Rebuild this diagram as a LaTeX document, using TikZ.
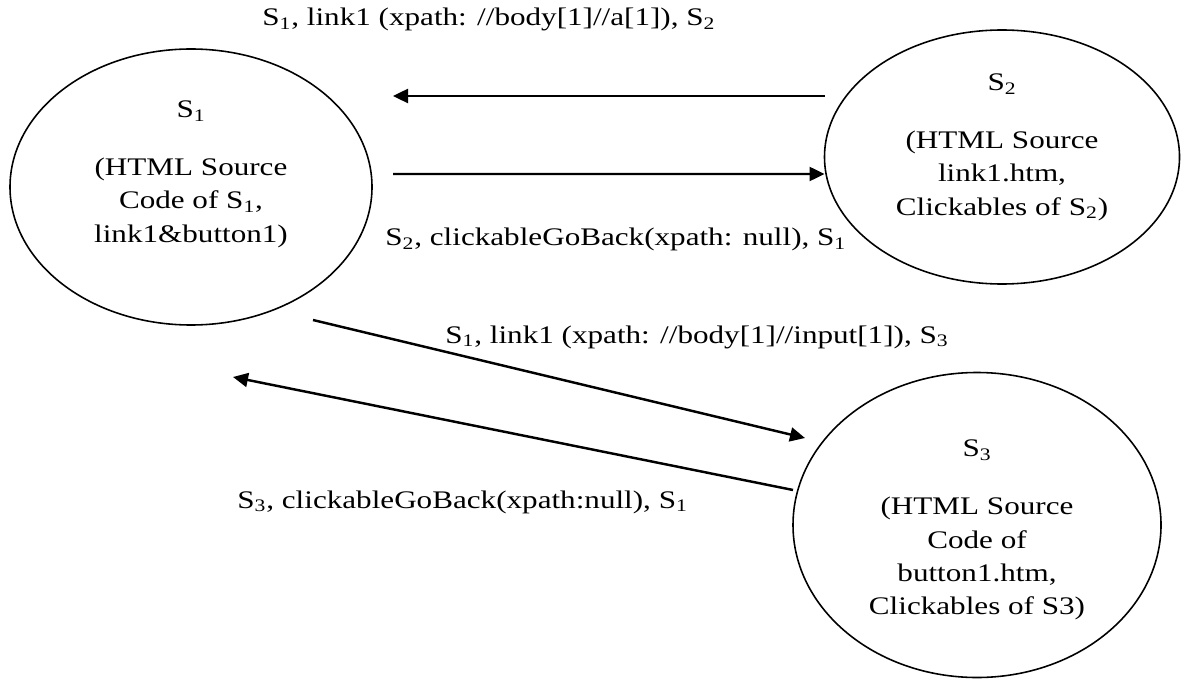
\documentclass[tikz,border=0pt]{standalone}
\usepackage{fontspec}
\setmainfont[FakeStretch=1.23]{Liberation Serif}
\usepackage{tikz}
\usetikzlibrary{arrows.meta, shapes.geometric}

\begin{document}
\begin{tikzpicture}[
  state/.style={draw, ellipse, line width=0.9pt, inner sep=0pt, outer sep=0pt},
  statetext/.style={align=center, inner sep=0pt, font=\fontsize{14.4}{18.9}\selectfont},
  edgelabel/.style={anchor=base west, inner sep=0pt, font=\fontsize{14.4}{18.9}\selectfont},
  arr/.style={-{Triangle[length=0.3cm, width=0.28cm]}, line width=1.4pt}
]
\useasboundingbox (0,0) rectangle (24.02,-13.6);

\node[state, minimum width=7.24cm, minimum height=5.52cm] (S1) at (3.82,-3.74) {};
\node[state, minimum width=7.1cm, minimum height=5.08cm] (S2) at (20.04,-3.14) {};
\node[state, minimum width=7.36cm, minimum height=6.1cm] (S3) at (19.54,-10.5) {};

\node[statetext] (S1txt) at ([yshift=0.26cm]S1.center) {S\textsubscript{1}\\[0.5cm](HTML Source\\Code of S\textsubscript{1},\\link1\&button1)};
\node[statetext] (S2txt) at ([yshift=0.2cm]S2.center) {S\textsubscript{2}\\[0.5cm](HTML Source\\link1.htm,\\Clickables of S\textsubscript{2})};
\node[statetext] (S3txt) at ([yshift=-0.1cm]S3.center) {S\textsubscript{3}\\[0.5cm](HTML Source\\Code of\\button1.htm,\\Clickables of S3)};

% arrow ends
\coordinate (a1) at ([yshift=1.22cm]S2.west);
\coordinate (b1) at ([xshift=0.42cm, yshift=1.82cm]S1.east);
\coordinate (a2) at ([xshift=0.42cm, yshift=0.26cm]S1.east);
\coordinate (b2) at ([yshift=-0.34cm]S2.west);
\coordinate (a3) at ([xshift=2.44cm, yshift=0.1cm]S1.south);
\coordinate (b3) at ([xshift=0.24cm, yshift=1.74cm]S3.west);
\coordinate (a4) at ([yshift=0.7cm]S3.west);
\coordinate (b4) at ([xshift=0.84cm, yshift=-1.04cm]S1.south);

\draw[arr] (a1) -- (b1);
\draw[arr] (a2) -- (b2);
\draw[arr] (a3) -- (b3);
\draw[arr] (a4) -- (b4);

\node[edgelabel] (l1) at (5.24,-0.52) {S\textsubscript{1}, link1 (xpath: //body[1]//a[1]), S\textsubscript{2}};
\node[edgelabel] (l2) at (7.70,-4.92) {S\textsubscript{2}, clickableGoBack(xpath: null), S\textsubscript{1}};
\node[edgelabel] (l3) at (8.90,-6.86) {S\textsubscript{1}, link1 (xpath: //body[1]//input[1]), S\textsubscript{3}};
\node[edgelabel] (l4) at (4.74,-10.16) {S\textsubscript{3}, clickableGoBack(xpath:null), S\textsubscript{1}};
\end{tikzpicture}
\end{document}
